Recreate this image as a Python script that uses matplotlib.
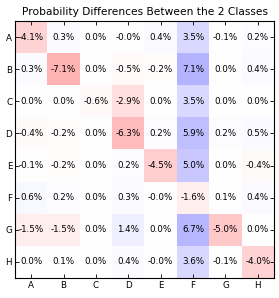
import numpy as np
import matplotlib
matplotlib.use("Agg")
import matplotlib.pyplot as plt

labels = ["A", "B", "C", "D", "E", "F", "G", "H"]
row_A = [-4.1, 0.3, 0.0, -0.0, 0.4, 3.5, -0.1, 0.2]
row_B = [0.3, -7.1, 0.0, -0.5, -0.2, 7.1, 0.0, 0.4]
row_C = [0.0, 0.0, -0.6, -2.9, 0.0, 3.5, 0.0, 0.0]
row_D = [-0.4, -0.2, 0.0, -6.3, 0.2, 5.9, 0.2, 0.5]
row_E = [-0.1, -0.2, 0.0, 0.2, -4.5, 5.0, 0.0, -0.4]
row_F = [0.6, 0.2, 0.0, 0.3, -0.0, -1.6, 0.1, 0.4]
row_G = [-1.5, -1.5, 0.0, 1.4, 0.0, 6.7, -5.0, 0.0]
row_H = [0.0, 0.1, 0.0, 0.4, -0.0, 3.6, -0.1, -4.0]
title = "Probability Differences Between the 2 Classes"

data = np.array([row_A, row_B, row_C, row_D, row_E, row_F, row_G, row_H])

fig = plt.figure(figsize=(2.79, 2.98), dpi=100)
ax = fig.add_axes([15/279, 1 - 278/298, (274-15)/279, (278-21)/298])
vmax = np.abs(data).max()
ax.imshow(data, cmap="bwr_r", vmin=-vmax, vmax=vmax, alpha=0.3, aspect="auto")
for i in range(data.shape[0]):
    for j in range(data.shape[1]):
        ax.text(j, i, f"{data[i, j]:.1f}%", ha="center", va="center", fontsize=6.3, color="black")
ax.set_xticks(range(len(labels)))
ax.set_xticklabels(labels)
ax.set_yticks(range(len(labels)))
ax.set_yticklabels(labels)
ax.tick_params(direction="in", top=True, right=True, labelsize=6.3, length=3, width=0.6, pad=2)
for s in ax.spines.values():
    s.set_linewidth(0.8)
ax.set_title(title, fontsize=7.7, pad=4)
fig.savefig("out.png", dpi=100)
